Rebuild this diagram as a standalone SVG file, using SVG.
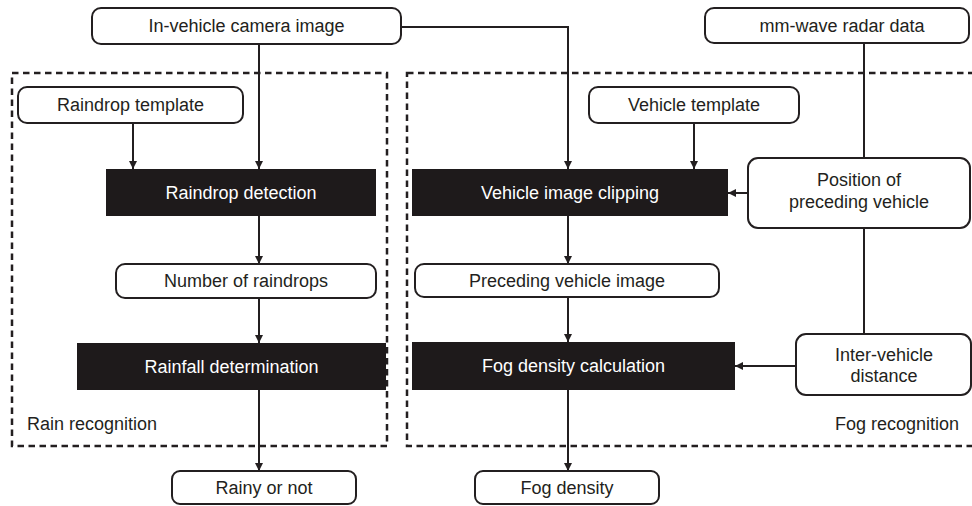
<svg xmlns="http://www.w3.org/2000/svg" width="972" height="506" viewBox="0 0 972 506">
<defs>
<style>
.bg{fill:#ffffff}
.node{fill:#ffffff;stroke:#231f20;stroke-width:2}
.proc{fill:#1e1a1b;stroke:none}
.t{font-family:"Liberation Sans",Arial,sans-serif;font-size:18px;fill:#231f20;text-anchor:middle}
.tw{font-family:"Liberation Sans",Arial,sans-serif;font-size:18px;fill:#ffffff;text-anchor:middle}
.lab{font-family:"Liberation Sans",Arial,sans-serif;font-size:18px;fill:#231f20}
.grp{fill:none;stroke:#231f20;stroke-width:2.5;stroke-dasharray:6.5 4.5}
.c{fill:none;stroke:#231f20;stroke-width:2}
.ca{fill:none;stroke:#231f20;stroke-width:2;marker-end:url(#ah)}
</style>
<marker id="ah" markerUnits="userSpaceOnUse" markerWidth="9" markerHeight="9" refX="8" refY="4.5" orient="auto">
<path d="M0,0.5 L8,4.5 L0,8.5 z" fill="#231f20"/>
</marker>
</defs>
<rect class="bg" x="0" y="0" width="972" height="506"/>

<g id="groups">
<rect class="grp" x="12" y="73" width="375" height="373"/>
<rect class="grp" x="407" y="73" width="575" height="373"/>
<text class="lab" x="27" y="430">Rain recognition</text>
<text class="lab" x="835" y="430">Fog recognition</text>
</g>

<g id="connectors">
<path class="ca" d="M259,44 V169"/>
<path class="ca" d="M133,123 V169"/>
<path class="ca" d="M259,216 V264"/>
<path class="ca" d="M259,298 V343"/>
<path class="ca" d="M259,390 V471"/>
<path class="ca" d="M401,27 H568 V169"/>
<path class="ca" d="M694,123 V169"/>
<path class="c" d="M864,43 V158"/>
<path class="ca" d="M748,193 H728"/>
<path class="ca" d="M568,216 V264"/>
<path class="ca" d="M568,297 V342"/>
<path class="ca" d="M568,390 V471"/>
<path class="c" d="M864,228 V334"/>
<path class="ca" d="M796,366 H735"/>
</g>

<g id="camera">
<rect class="node" x="92" y="8" width="309" height="36" rx="9"/>
<text class="t" x="246.5" y="32">In-vehicle camera image</text>
</g>
<g id="radar">
<rect class="node" x="705" y="8" width="264" height="35" rx="9"/>
<text class="t" x="842" y="32">mm-wave radar data</text>
</g>
<g id="raindrop-template">
<rect class="node" x="18" y="87" width="225" height="36" rx="9"/>
<text class="t" x="130.5" y="111">Raindrop template</text>
</g>
<g id="raindrop-detection">
<rect class="proc" x="106" y="169" width="270" height="47"/>
<text class="tw" x="241" y="199">Raindrop detection</text>
</g>
<g id="number-raindrops">
<rect class="node" x="116" y="264" width="260" height="34" rx="9"/>
<text class="t" x="246" y="287">Number of raindrops</text>
</g>
<g id="rainfall-determination">
<rect class="proc" x="77" y="343" width="309" height="47"/>
<text class="tw" x="231.5" y="373">Rainfall determination</text>
</g>
<g id="rainy-or-not">
<rect class="node" x="172" y="471" width="184" height="33" rx="8"/>
<text class="t" x="264" y="494">Rainy or not</text>
</g>
<g id="vehicle-template">
<rect class="node" x="589" y="87" width="210" height="36" rx="9"/>
<text class="t" x="694" y="111">Vehicle template</text>
</g>
<g id="vehicle-clipping">
<rect class="proc" x="412" y="169" width="316" height="47"/>
<text class="tw" x="570" y="199">Vehicle image clipping</text>
</g>
<g id="position">
<rect class="node" x="748" y="158" width="222" height="70" rx="10"/>
<text class="t" x="859" y="186">Position of</text>
<text class="t" x="859" y="208">preceding vehicle</text>
</g>
<g id="preceding-image">
<rect class="node" x="415" y="264" width="304" height="33" rx="9"/>
<text class="t" x="567" y="287">Preceding vehicle image</text>
</g>
<g id="fog-calc">
<rect class="proc" x="412" y="342" width="323" height="48"/>
<text class="tw" x="573.5" y="372">Fog density calculation</text>
</g>
<g id="inter-distance">
<rect class="node" x="796" y="334" width="175" height="61" rx="10"/>
<text class="t" x="884" y="361">Inter-vehicle</text>
<text class="t" x="884" y="382">distance</text>
</g>
<g id="fog-density">
<rect class="node" x="475" y="471" width="184" height="33" rx="8"/>
<text class="t" x="567" y="494">Fog density</text>
</g>
</svg>
